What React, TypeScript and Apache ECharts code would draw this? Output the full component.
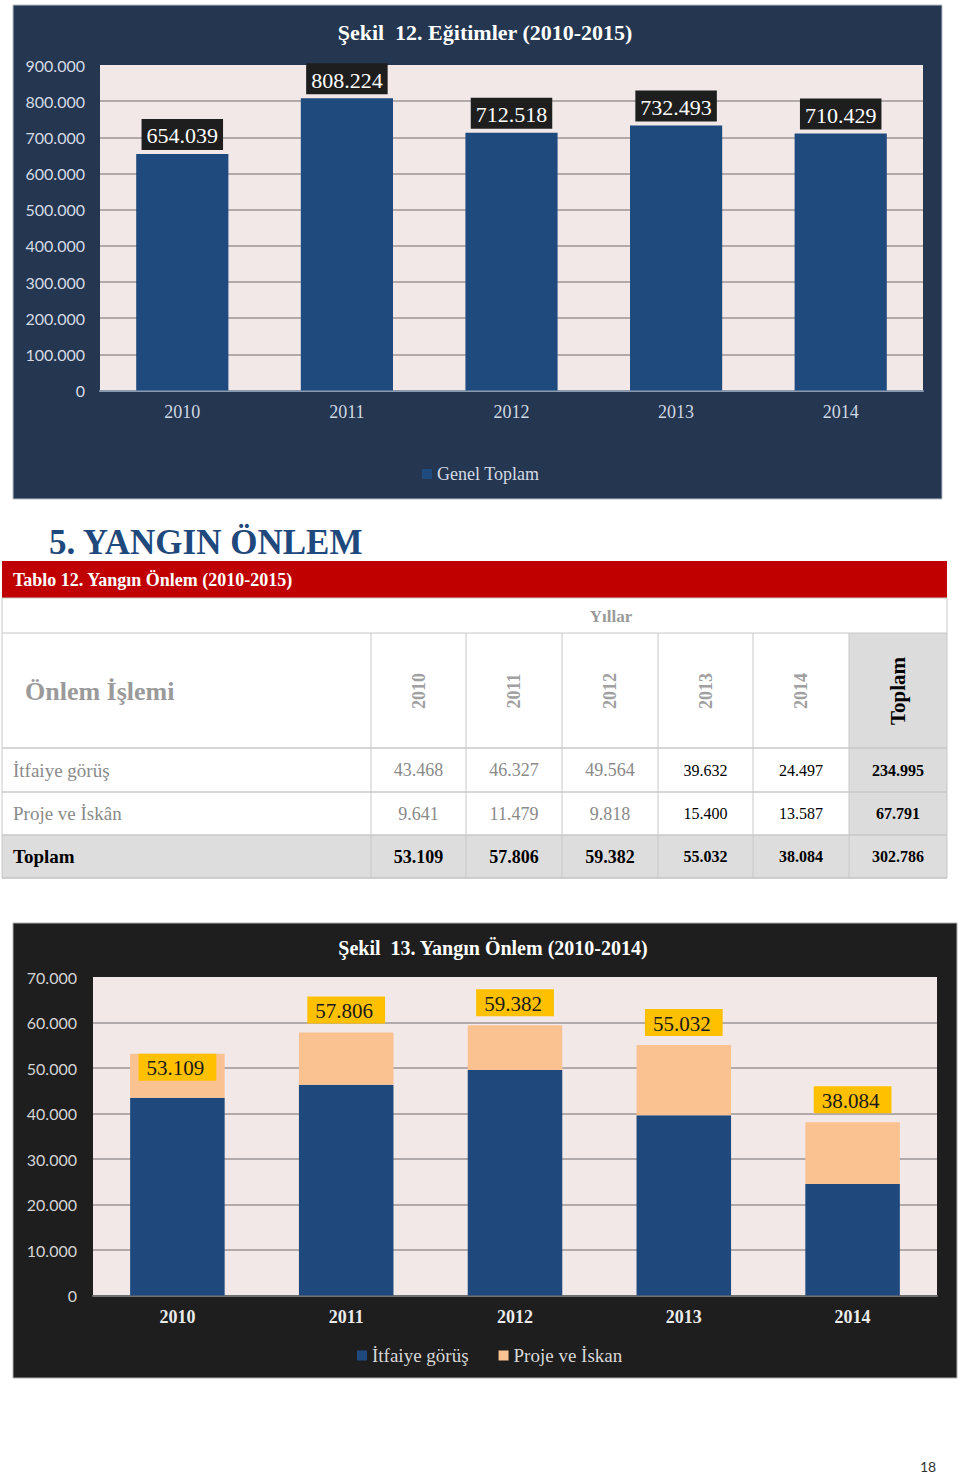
import React, { useEffect, useRef } from "react";
import * as echarts from "echarts";

const years = ["2010", "2011", "2012", "2013", "2014"];
const egitimValues = [654039, 808224, 712518, 732493, 710429];
const itfaiyeValues = [43468, 46327, 49564, 39632, 24497];
const projeValues = [9641, 11479, 9818, 15400, 13587];
const toplamValues = [53109, 57806, 59382, 55032, 38084];
const rowTotals = [234995, 67791, 302786];
const rowNames = ["İtfaiye görüş", "Proje ve İskân", "Toplam"];

const fmt = (n: number) => String(n).replace(/\B(?=(\d{3})+(?!\d))/g, ".");
const SERIF = "'Liberation Serif', 'DejaVu Serif', serif";
const SANS = "Lato, 'Open Sans', sans-serif";

function buildTable(): any[] {
  const els: any[] = [];
  const lineColor = "#c8c8c8";
  const colX = [371, 466, 562, 658, 753, 849, 947];
  const rowY = [748, 792, 835, 878];
  els.push({ type: "rect", shape: { x: 849, y: 633, width: 98, height: 202 }, style: { fill: "#dcdcdc" } });
  els.push({ type: "rect", shape: { x: 2, y: 835, width: 945, height: 43 }, style: { fill: "#dddddd" } });
  els.push({ type: "rect", shape: { x: 2, y: 561, width: 945, height: 37 }, style: { fill: "#c00000" } });
  els.push({
    type: "text", x: 13, y: 580,
    style: { text: "Tablo 12. Yangın Önlem (2010-2015)", fill: "#ffffff", font: `bold 18px ${SERIF}`, textVerticalAlign: "middle" },
  });
  els.push({
    type: "text", x: 49, y: 542,
    style: { text: "5. YANGIN ÖNLEM", fill: "#1f497d", font: `bold 35px ${SERIF}`, textVerticalAlign: "middle" },
  });
  els.push({ type: "rect", shape: { x: 2, y: 598, width: 945, height: 280 }, style: { fill: "none", stroke: lineColor, lineWidth: 1 } });
  els.push({ type: "line", shape: { x1: 2, y1: 633, x2: 947, y2: 633 }, style: { stroke: lineColor, lineWidth: 1 } });
  rowY.forEach((y) => els.push({ type: "line", shape: { x1: 2, y1: y, x2: 947, y2: y }, style: { stroke: lineColor, lineWidth: 1.5 } }));
  colX.slice(0, 6).forEach((x) => els.push({ type: "line", shape: { x1: x, y1: 633, x2: x, y2: 878 }, style: { stroke: lineColor, lineWidth: 1 } }));
  els.push({ type: "text", x: 611, y: 616, style: { text: "Yıllar", fill: "#9a9a9a", font: `bold 17px ${SERIF}`, textAlign: "center", textVerticalAlign: "middle" } });
  els.push({ type: "text", x: 25, y: 691, style: { text: "Önlem İşlemi", fill: "#9a9a9a", font: `bold 26px ${SERIF}`, textVerticalAlign: "middle" } });
  const centers = colX.slice(0, 6).map((x, i) => (x + colX[i + 1]) / 2);
  years.forEach((yr, i) => {
    els.push({
      type: "text", x: centers[i], y: 691, rotation: Math.PI / 2,
      style: { text: yr, fill: "#a0a0a0", font: `bold 18px ${SERIF}`, textAlign: "center", textVerticalAlign: "middle" },
    });
  });
  els.push({
    type: "text", x: centers[5], y: 691, rotation: Math.PI / 2,
    style: { text: "Toplam", fill: "#000000", font: `bold 21px ${SERIF}`, textAlign: "center", textVerticalAlign: "middle" },
  });
  const rowsData = [itfaiyeValues, projeValues, toplamValues];
  rowsData.forEach((vals, r) => {
    const cy = (rowY[r] + rowY[r + 1]) / 2;
    const isTotal = r === 2;
    els.push({
      type: "text", x: 13, y: cy,
      style: { text: rowNames[r], fill: isTotal ? "#000" : "#8a8a8a", font: `${isTotal ? "bold " : ""}19px ${SERIF}`, textVerticalAlign: "middle" },
    });
    vals.forEach((v, c) => {
      const early = c < 3;
      const fill = isTotal || !early ? "#000" : "#8a8a8a";
      const font = early ? `${isTotal ? "bold " : ""}18px ${SERIF}` : `${isTotal ? "bold " : ""}16px ${SERIF}`;
      els.push({ type: "text", x: centers[c], y: cy, style: { text: fmt(v), fill, font, textAlign: "center", textVerticalAlign: "middle" } });
    });
    els.push({
      type: "text", x: centers[5], y: cy,
      style: { text: fmt(rowTotals[r]), fill: "#000", font: `bold 16px ${SERIF}`, textAlign: "center", textVerticalAlign: "middle" },
    });
  });
  els.push({ type: "text", x: 928, y: 1466, style: { text: "18", fill: "#333", font: `14px ${SANS}`, textAlign: "center", textVerticalAlign: "middle" } });
  return els;
}

export default function App() {
  const ref = useRef<HTMLDivElement>(null);
  useEffect(() => {
    if (!ref.current) return;
    const chart = echarts.init(ref.current, null, { renderer: "svg" });
    const option: any = {
      animation: false,
      backgroundColor: "#ffffff",
      title: [
        {
          text: "Şekil  12. Eğitimler (2010-2015)", left: 480, top: 16, textAlign: "center",
          textStyle: { color: "#ffffff", fontSize: 22, fontWeight: "bold", fontFamily: SERIF },
        },
        {
          text: "Şekil  13. Yangın Önlem (2010-2014)", left: 488, top: 933, textAlign: "center",
          textStyle: { color: "#ffffff", fontSize: 20, fontWeight: "bold", fontFamily: SERIF },
        },
      ],
      legend: [
        {
          data: ["Genel Toplam"], left: 417, top: 460, icon: "rect", itemWidth: 10, itemHeight: 10,
          textStyle: { color: "#d5dbe5", fontSize: 18, fontFamily: SERIF },
        },
        {
          data: ["İtfaiye görüş", "Proje ve İskan"], left: 352, top: 1341, icon: "rect", itemWidth: 10, itemHeight: 10, itemGap: 30,
          textStyle: { color: "#d8d8d8", fontSize: 19, fontFamily: SERIF },
        },
      ],
      graphic: [
        { type: "rect", z: -10, shape: { x: 13, y: 5, width: 929, height: 494 }, style: { fill: "#243650", stroke: "#b9c1cc", lineWidth: 1 } },
        { type: "rect", z: -10, shape: { x: 13, y: 923, width: 944, height: 455 }, style: { fill: "#1e1e1e", stroke: "#b0b0b0", lineWidth: 1 } },
        ...buildTable(),
      ],
      grid: [
        { left: 100, top: 65, width: 823, height: 325.5, show: true, backgroundColor: "#f2e8e8", borderWidth: 0 },
        { left: 93, top: 977, width: 844, height: 318.5, show: true, backgroundColor: "#f2e8e8", borderWidth: 0 },
      ],
      xAxis: [
        {
          type: "category", gridIndex: 0, data: years,
          axisLine: { lineStyle: { color: "#8c9ab0", width: 2 } }, axisTick: { show: false },
          axisLabel: { color: "#d0d8e4", fontSize: 18, fontFamily: SERIF, margin: 12 },
        },
        {
          type: "category", gridIndex: 1, data: years,
          axisLine: { lineStyle: { color: "#707070", width: 2 } }, axisTick: { show: false },
          axisLabel: { color: "#ebebeb", fontSize: 18, fontWeight: "bold", fontFamily: SERIF, margin: 12 },
        },
      ],
      yAxis: [
        {
          type: "value", gridIndex: 0, min: 0, max: 900000, interval: 100000,
          axisLine: { show: false }, axisTick: { show: false },
          axisLabel: { color: "#d5dbe5", fontSize: 16, fontFamily: SANS, margin: 15, formatter: (v: number) => fmt(v) },
          splitLine: { show: true, showMaxLine: false, lineStyle: { color: "#9c9696", width: 1.5 } },
        },
        {
          type: "value", gridIndex: 1, min: 0, max: 70000, interval: 10000,
          axisLine: { show: false }, axisTick: { show: false },
          axisLabel: { color: "#d4d4d4", fontSize: 16, fontFamily: SANS, margin: 16, formatter: (v: number) => fmt(v) },
          splitLine: { show: true, showMaxLine: false, lineStyle: { color: "#9c9696", width: 1.5 } },
        },
      ],
      series: [
        {
          name: "Genel Toplam", type: "bar", xAxisIndex: 0, yAxisIndex: 0, data: egitimValues, barWidth: "56%",
          itemStyle: { color: "#1f4a7e" },
          label: {
            show: true, position: "top", distance: 4, formatter: (p: any) => fmt(p.value),
            backgroundColor: "#1e1e1e", color: "#ffffff", fontSize: 22, fontFamily: SERIF, padding: [6, 5, 3, 5],
          },
        },
        {
          name: "İtfaiye görüş", type: "bar", stack: "onlem", xAxisIndex: 1, yAxisIndex: 1, data: itfaiyeValues, barWidth: "56%",
          itemStyle: { color: "#1f497d" },
        },
        {
          name: "Proje ve İskan", type: "bar", stack: "onlem", xAxisIndex: 1, yAxisIndex: 1, barWidth: "56%",
          data: projeValues.map((v, i) => (i === 0 ? { value: v, label: { position: "insideTop", distance: 0 } } : v)),
          itemStyle: { color: "#fac191" },
          label: {
            show: true, position: "top", distance: 9, formatter: (p: any) => fmt(toplamValues[p.dataIndex]),
            backgroundColor: "#ffc000", color: "#1a1a1a", fontSize: 21, fontFamily: SERIF, padding: [4, 12, 2, 8],
          },
        },
      ],
    };
    chart.setOption(option);
    return () => chart.dispose();
  }, []);
  return (
    <div style={{ position: "absolute", left: 0, top: 0, width: 960, height: 1476 }}>
      <div ref={ref} style={{ width: 960, height: 1476 }} />
    </div>
  );
}
